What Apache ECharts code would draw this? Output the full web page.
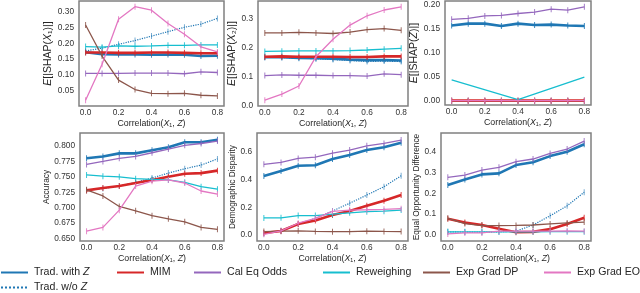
<!DOCTYPE html>
<html><head><meta charset="utf-8">
<script src="https://cdn.jsdelivr.net/npm/echarts@6/dist/echarts.min.js"></script>
<style>html,body{margin:0;padding:0;background:#fff}#c{width:640px;height:293px}</style>
</head><body><div id="c"></div>
<script>
// x values
const corr = [0.0, 0.1, 0.2, 0.3, 0.4, 0.5, 0.6, 0.7, 0.8];
const xTicks = [0.0, 0.2, 0.4, 0.6, 0.8];
// method order
const methods = ['Trad. with Z', 'MIM', 'Cal Eq Odds', 'Reweighing', 'Exp Grad DP', 'Exp Grad EO', 'Trad. w/o Z'];

// Panel 1: E[|SHAP(X1)|]
const shapX1TradZ = [0.172, 0.166, 0.165, 0.165, 0.164, 0.165, 0.164, 0.160, 0.161];
const shapX1MIM   = [0.171, 0.171, 0.170, 0.170, 0.171, 0.171, 0.170, 0.169, 0.169];
const shapX1Cal   = [0.105, 0.105, 0.105, 0.106, 0.106, 0.106, 0.104, 0.110, 0.108];
const shapX1Rew   = [0.190, 0.188, 0.192, 0.191, 0.192, 0.194, 0.194, 0.195, 0.195];
const shapX1DP    = [0.258, 0.160, 0.084, 0.054, 0.042, 0.041, 0.042, 0.036, 0.034];
const shapX1EO    = [0.020, 0.134, 0.276, 0.316, 0.305, 0.263, 0.229, 0.189, 0.173];
const shapX1NoZ   = [0.176, 0.185, 0.197, 0.209, 0.223, 0.237, 0.251, 0.261, 0.279];
const shapX1Ticks = [0.05, 0.10, 0.15, 0.20, 0.25, 0.30];

// Panel 2: E[|SHAP(X2)|]
const shapX2TradZ = [0.168, 0.168, 0.166, 0.165, 0.163, 0.160, 0.158, 0.158, 0.157];
const shapX2MIM   = [0.170, 0.171, 0.170, 0.170, 0.170, 0.169, 0.169, 0.171, 0.171];
const shapX2Cal   = [0.105, 0.107, 0.106, 0.106, 0.105, 0.105, 0.103, 0.111, 0.108];
const shapX2Rew   = [0.188, 0.189, 0.190, 0.190, 0.190, 0.191, 0.193, 0.196, 0.199];
const shapX2DP    = [0.252, 0.252, 0.254, 0.252, 0.250, 0.255, 0.263, 0.267, 0.261];
const shapX2EO    = [0.020, 0.041, 0.069, 0.170, 0.230, 0.279, 0.311, 0.331, 0.342];
const shapX2NoZ   = [0.168, 0.167, 0.165, 0.163, 0.160, 0.157, 0.153, 0.155, 0.153];
const shapX2Ticks = [0.0, 0.1, 0.2, 0.3];

// Panel 3: E[|SHAP(Z)|]
const shapZTradZ = [0.156, 0.160, 0.160, 0.155, 0.160, 0.157, 0.158, 0.156, 0.155];
const shapZMIM   = [0, 0, 0, 0, 0, 0, 0, 0, 0];
const shapZCal   = [0.169, 0.171, 0.176, 0.177, 0.181, 0.184, 0.190, 0.188, 0.195];
const shapZRew   = [0.043, null, null, null, 0.002, null, null, null, 0.049];
const shapZDP    = [0, 0, 0, 0, 0, 0, 0, 0, 0];
const shapZEO    = [0, 0, 0, 0, 0, 0, 0, 0, 0];
const shapZNoZ   = [0, 0, 0, 0, 0, 0, 0, 0, 0];
const shapZTicks = [0.00, 0.05, 0.10, 0.15, 0.20];

// Panel 4: Accuracy
const accTradZ = [0.780, 0.783, 0.788, 0.788, 0.793, 0.798, 0.806, 0.806, 0.810];
const accMIM   = [0.728, 0.732, 0.735, 0.740, 0.745, 0.750, 0.755, 0.756, 0.760];
const accCal   = [0.770, 0.775, 0.780, 0.783, 0.789, 0.795, 0.801, 0.804, 0.808];
const accRew   = [0.753, 0.751, 0.750, 0.747, 0.746, 0.745, 0.741, 0.734, 0.730];
const accDP    = [0.729, 0.719, 0.702, 0.695, 0.687, 0.682, 0.677, 0.668, 0.665];
const accEO    = [0.662, 0.668, 0.696, 0.735, 0.743, 0.745, 0.740, 0.727, 0.722];
const accNoZ   = [0.728, 0.731, 0.735, 0.741, 0.748, 0.756, 0.763, 0.769, 0.779];
const accTicks = [0.650, 0.675, 0.700, 0.725, 0.750, 0.775, 0.800];

// Panel 5: Demographic Disparity
const ddTradZ = [0.425, 0.461, 0.499, 0.503, 0.547, 0.576, 0.612, 0.632, 0.665];
const ddMIM   = [0.015, 0.029, 0.080, 0.104, 0.145, 0.173, 0.211, 0.247, 0.288];
const ddCal   = [0.509, 0.523, 0.552, 0.561, 0.590, 0.612, 0.643, 0.660, 0.684];
const ddRew   = [0.123, 0.124, 0.140, 0.140, 0.150, 0.160, 0.168, 0.172, 0.180];
const ddDP    = [0.025, 0.028, 0.030, 0.026, 0.024, 0.024, 0.028, 0.026, 0.025];
const ddEO    = [0.005, 0.030, 0.085, 0.120, 0.170, 0.180, 0.182, 0.185, 0.190];
const ddNoZ   = [0.010, 0.030, 0.080, 0.120, 0.173, 0.229, 0.288, 0.348, 0.427];
const ddTicks = [0.0, 0.2, 0.4, 0.6];

// Panel 6: Equal Opportunity Difference
const eodTradZ = [0.240, 0.267, 0.291, 0.296, 0.336, 0.349, 0.379, 0.400, 0.436];
const eodMIM   = [0.078, 0.060, 0.048, 0.030, 0.013, 0.015, 0.028, 0.053, 0.083];
const eodCal   = [0.277, 0.288, 0.312, 0.325, 0.352, 0.365, 0.392, 0.413, 0.451];
const eodRew   = [0.015, 0.015, 0.015, 0.015, 0.015, 0.015, 0.016, 0.016, 0.016];
const eodDP    = [0.080, 0.055, 0.045, 0.045, 0.046, 0.048, 0.053, 0.058, 0.062];
const eodEO    = [0.005, 0.010, 0.010, 0.018, 0.018, 0.018, 0.018, 0.020, 0.018];
const eodNoZ   = [0.015, 0.014, 0.013, 0.015, 0.018, 0.048, 0.092, 0.140, 0.205];
const eodTicks = [0.0, 0.1, 0.2, 0.3, 0.4];

const panels = [
  {vals: [shapX1TradZ, shapX1MIM, shapX1Cal, shapX1Rew, shapX1DP, shapX1EO, shapX1NoZ], ticks: shapX1Ticks, dec: 2,
   grid: {left: 79, top: 1, width: 145, height: 105}, ymin: 0.002, ymax: 0.334, nameGap: 21, nameSize: 10.5,
   yname: '{i|E}{n|[|SHAP(}{i|X}{n|₁)|]}'},
  {vals: [shapX2TradZ, shapX2MIM, shapX2Cal, shapX2Rew, shapX2DP, shapX2EO, shapX2NoZ], ticks: shapX2Ticks, dec: 1,
   grid: {left: 258, top: 1, width: 150, height: 105}, ymin: 0.0, ymax: 0.362, nameGap: 20, nameSize: 10.5,
   yname: '{i|E}{n|[|SHAP(}{i|X}{n|₂)|]}'},
  {vals: [shapZTradZ, shapZMIM, shapZCal, shapZRew, shapZDP, shapZEO, shapZNoZ], ticks: shapZTicks, dec: 2,
   grid: {left: 445, top: 1, width: 146, height: 104}, ymin: -0.009, ymax: 0.207, nameGap: 23, nameSize: 10.5,
   yname: '{i|E}{n|[|SHAP(}{i|Z}{n|)|]}'},
  {vals: [accTradZ, accMIM, accCal, accRew, accDP, accEO, accNoZ], ticks: accTicks, dec: 3,
   grid: {left: 80, top: 133, width: 144, height: 108}, ymin: 0.646, ymax: 0.821, nameGap: 28, nameSize: 8.3,
   yname: '{n|Accuracy}'},
  {vals: [ddTradZ, ddMIM, ddCal, ddRew, ddDP, ddEO, ddNoZ], ticks: ddTicks, dec: 1,
   grid: {left: 257, top: 133, width: 151, height: 108}, ymin: -0.043, ymax: 0.735, nameGap: 20, nameSize: 8.3,
   yname: '{n|Demographic Disparity}'},
  {vals: [eodTradZ, eodMIM, eodCal, eodRew, eodDP, eodEO, eodNoZ], ticks: eodTicks, dec: 1,
   grid: {left: 441, top: 133, width: 150, height: 108}, ymin: -0.029, ymax: 0.49, nameGap: 18, nameSize: 8.3,
   yname: '{n|Equal Opportunity Difference}'}
];

const styles = [
  {color: '#1f77b4', width: 2.6, type: 'solid'},
  {color: '#d62728', width: 2.6, type: 'solid'},
  {color: '#9467bd', width: 1.3, type: 'solid'},
  {color: '#17becf', width: 1.3, type: 'solid'},
  {color: '#8c564b', width: 1.3, type: 'solid'},
  {color: '#e377c2', width: 1.3, type: 'solid'},
  {color: '#1f77b4', width: 1.2, type: 'dotted'}
];
const drawOrder = [6, 0, 1, 2, 3, 4, 5];
const FONT = '"Liberation Sans", Arial, sans-serif';
function rich(size) {
  return {
    n: {fontFamily: FONT, fontSize: size, color: '#262626'},
    i: {fontFamily: FONT, fontSize: size, color: '#262626', fontStyle: 'italic'}
  };
}

const grids = [], xAxes = [], yAxes = [], series = [];
panels.forEach((p, k) => {
  grids.push(Object.assign({show: true, borderColor: '#808080', borderWidth: 1.5, backgroundColor: '#fff'}, p.grid));
  xAxes.push({
    type: 'value', gridIndex: k, min: -0.04, max: 0.84,
    axisLine: {show: false}, axisTick: {show: false}, splitLine: {show: false},
    axisLabel: {customValues: xTicks, formatter: v => v.toFixed(1), fontSize: 8.3, color: '#333', fontFamily: FONT, margin: 3},
    name: '{n|Correlation(}{i|X}{n|₁, }{i|Z}{n|)}', nameLocation: 'middle', nameGap: 13,
    nameTextStyle: {rich: rich(8.8)}
  });
  yAxes.push({
    type: 'value', gridIndex: k, min: p.ymin, max: p.ymax,
    axisLine: {show: false}, axisTick: {show: false}, splitLine: {show: false},
    axisLabel: {customValues: p.ticks, formatter: v => v.toFixed(p.dec), fontSize: 8.3, color: '#333', fontFamily: FONT, margin: 5},
    name: p.yname, nameLocation: 'middle', nameRotate: 90, nameGap: p.nameGap,
    nameTextStyle: {rich: rich(p.nameSize)}
  });
  drawOrder.forEach((m, zi) => {
    const st = styles[m];
    const data = [];
    corr.forEach((x, i) => { if (p.vals[m][i] !== null) data.push([x, p.vals[m][i]]); });
    series.push({
      type: 'line', name: methods[m] + ' #' + k, xAxisIndex: k, yAxisIndex: k,
      data: data, z: 2 + zi * 0.01, silent: true,
      symbol: (k === 2 && m === 3) ? 'none' : 'rect', symbolSize: [1, 6], showSymbol: true,
      itemStyle: {color: st.color, opacity: st.type === 'dotted' ? 0.6 : 0.85},
      lineStyle: {color: st.color, width: st.width, type: st.type}
    });
  });
});
// legend-only series
methods.forEach((name, m) => {
  const st = styles[m];
  series.push({type: 'line', name: name, xAxisIndex: 0, yAxisIndex: 0, data: [], symbol: 'none',
    itemStyle: {color: st.color},
    lineStyle: {color: st.color, width: st.type === 'dotted' ? 1.5 : (st.width > 2 ? 3 : 2), type: st.type}});
});

const legendPos = [[0, 267], [116, 267], [193, 267], [322, 267], [422, 267], [543, 267], [0, 282]];
const legends = methods.map((name, m) => ({
  data: [name], left: legendPos[m][0], top: legendPos[m][1], itemWidth: 27, itemHeight: 12, itemGap: 5,
  padding: 0, selectedMode: false,
  itemStyle: {opacity: 0, borderWidth: 0},
  formatter: n => n.endsWith('Z') ? '{n|' + n.slice(0, -1) + '}{i|Z}' : '{n|' + n + '}',
  textStyle: {rich: rich(10.6), padding: [0, 0, 0, 1]}
}));

const chart = echarts.init(document.getElementById('c'), null, {renderer: 'canvas'});
chart.setOption({
  animation: false, backgroundColor: '#fff',
  grid: grids, xAxis: xAxes, yAxis: yAxes, series: series, legend: legends
});
</script></body></html>
